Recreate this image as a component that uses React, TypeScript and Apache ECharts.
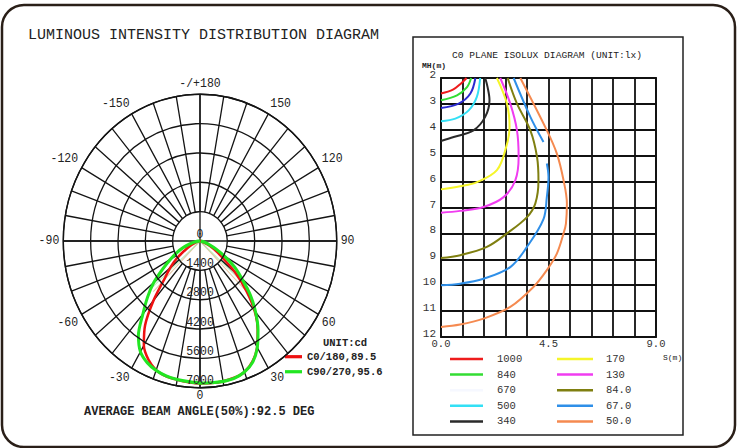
import React, { useEffect, useRef } from "react";
import * as echarts from "echarts";

// ---------- Polar (luminous intensity) data ----------
const polarAngles = [-90, -85, -80, -75, -70, -65, -60, -55, -50, -45, -40, -35, -30, -25, -20, -15, -10, -5, 0, 5, 10, 15, 20, 25, 30, 35, 40, 45, 50, 55, 60, 65, 70, 75, 80, 85, 90];
const c0Intensity = [0, 20, 70, 160, 320, 560, 900, 1450, 2000, 2600, 3700, 4900, 5750, 6250, 6560, 6680, 6720, 6760, 6790, 6800, 6800, 6760, 6650, 6350, 5850, 5150, 4350, 3350, 2400, 1450, 950, 560, 280, 120, 45, 10, 0];
const c90Intensity = [0, 100, 280, 550, 900, 1300, 1750, 2330, 3100, 3800, 4550, 5500, 6100, 6400, 6570, 6670, 6710, 6740, 6780, 6790, 6800, 6780, 6650, 6380, 5870, 5180, 4430, 3650, 2800, 2150, 1450, 900, 500, 250, 100, 30, 0];
const c0Name = "C0/180,89.5";
const c90Name = "C90/270,95.6";
const beamC0 = [[0, 44.75], [3395, 44.75], [0, 0], [0, -44.75], [3395, -44.75]];
const beamC90 = [[0, 47.8], [3390, 47.8], [0, 0], [0, -47.8], [3390, -47.8]];
const radiusMax = 7000;
const radiusStep = 1400;

// ---------- Isolux data ([S (m), MH (m)]) ----------
const isoNames = ["1000", "840", "670", "500", "340", "170", "130", "84.0", "67.0", "50.0"];
const isoColors = ["#ee1c1c", "#33dd33", "#2a2ad0", "#33e0f5", "#2a2a2a", "#f5f52a", "#f03cf0", "#7f7f10", "#2f8fe8", "#f58a50"];
const iso1000 = [[0, 2.6], [0.5, 2.45], [0.85, 2.2], [1.07, 2.0]];
const iso840 = [[0, 2.86], [0.67, 2.67], [1.09, 2.35], [1.26, 2.0]];
const iso670 = [[0, 3.16], [0.74, 2.99], [1.23, 2.6], [1.44, 2.0]];
const iso500 = [[0, 3.67], [0.6, 3.57], [1.16, 3.25], [1.5, 2.73], [1.64, 2.0]];
const iso340 = [[0, 4.43], [0.53, 4.28], [1.36, 4.02], [1.85, 3.5], [2.03, 2.86], [1.95, 2.35], [1.85, 2.0]];
const iso170 = [[0, 6.3], [0.8, 6.18], [1.51, 6.02], [2.34, 5.56], [2.73, 4.66], [2.87, 3.89], [2.76, 2.99], [2.34, 2.0]];
const iso130 = [[0, 7.2], [0.8, 7.13], [1.78, 6.98], [2.62, 6.6], [3.11, 5.95], [3.25, 5.05], [3.18, 4.02], [2.9, 2.99], [2.48, 2.0]];
const iso84 = [[0, 8.95], [0.81, 8.84], [1.92, 8.52], [2.76, 8.0], [3.6, 7.37], [3.95, 6.84], [4.08, 5.95], [4.02, 5.05], [3.74, 4.02], [3.18, 2.99], [2.79, 2.0]];
const iso67Lower = [[0, 10.0], [0.8, 9.94], [1.78, 9.75], [2.9, 9.3], [3.6, 8.52], [4.29, 7.45], [4.43, 6.6], [4.5, 5.82], [4.43, 5.3]];
const iso67Upper = [[4.29, 4.47], [3.74, 3.5], [3.04, 2.0]];
const iso50 = [[0, 11.61], [0.8, 11.52], [1.78, 11.29], [2.9, 10.84], [3.87, 10.07], [4.43, 9.42], [4.85, 8.78], [5.13, 8.0], [5.23, 7.62], [5.27, 6.85], [5.13, 5.95], [4.85, 4.92], [4.43, 4.02], [3.32, 2.0]];
const isoCurves = [iso1000, iso840, iso670, iso500, iso340, iso170, iso130, iso84, iso67Lower, iso50];
const sMax = 9;
const sStep = 0.9;
const sLabels = [0, 4.5, 9];
const mhMin = 2;
const mhMax = 12;

const MONO = "'Liberation Mono', 'DejaVu Sans Mono', monospace";
const GRID = "#141414";

// polar diagram geometry (the source drawing is slightly elliptical)
const CX = 200;
const CY = 241;
const R = 136.7;
const STRETCH = 146.7 / 136.7;

function toPolar(angles: number[], values: number[]) {
  return angles.map((a, i) => [values[i], a < 0 ? a + 360 : a]);
}
function wrapBeam(pts: number[][]) {
  return pts.map(([r, a]) => [r, a < 0 ? a + 360 : a]);
}
function angleLabel(v: number) {
  if (v % 30 !== 0 || v === 360) return "";
  if (v === 0) return "{z|0}";
  if (v === 180) return "-/+180";
  return v > 180 ? String(v - 360) : String(v);
}
// screen y -> unstretched y inside the polar canvas
function uy(y: number) {
  return CY + (y - CY) / STRETCH;
}

function buildPolarOption(): any {
  return {
    animation: false,
    polar: [
      { center: [CX, CY], radius: R },
      { center: [CX, CY], radius: [(R * radiusStep) / radiusMax, R] },
    ],
    angleAxis: [
      {
        polarIndex: 0, type: "value", min: 0, max: 360, interval: 90,
        startAngle: 270, clockwise: false,
        axisLine: { show: true, lineStyle: { color: GRID, width: 1.4 } },
        axisTick: { show: false }, axisLabel: { show: false },
        splitLine: { show: true, lineStyle: { color: GRID, width: 1.3 } },
      },
      {
        polarIndex: 1, type: "value", min: 0, max: 360, interval: 10,
        startAngle: 270, clockwise: false,
        axisLine: { show: false }, axisTick: { show: false },
        axisLabel: {
          show: true, margin: 4, formatter: angleLabel, fontFamily: MONO, fontSize: 11.5, color: "#222",
          rich: { z: { fontFamily: MONO, fontSize: 11.5, color: "#222", lineHeight: 7 } },
        },
        splitLine: { show: true, lineStyle: { color: GRID, width: 1.3 } },
      },
    ],
    radiusAxis: [
      {
        polarIndex: 0, type: "value", min: 0, max: radiusMax, interval: radiusStep,
        axisLine: { show: false }, axisTick: { show: false },
        axisLabel: {
          show: true, margin: 0, align: "center", verticalAlign: "bottom",
          formatter: (v: number) => String(v),
          fontFamily: MONO, fontSize: 11.5, color: "#222",
        },
        splitLine: { show: true, lineStyle: { color: GRID, width: 1.3 } },
        z: 6,
      },
      { polarIndex: 1, type: "value", min: 0, max: 1, show: false },
    ],
    legend: {
      data: [c0Name, c90Name], orient: "vertical", left: 285, top: uy(356.7) - 6, padding: 0,
      icon: "rect", itemWidth: 17, itemHeight: 3, itemGap: 2,
      textStyle: { fontFamily: MONO, fontSize: 10.5, color: "#222", fontWeight: "bold", lineHeight: 12 },
      selectedMode: false,
    },
    series: [
      {
        name: c0Name, type: "line", coordinateSystem: "polar", polarIndex: 0,
        data: toPolar(polarAngles, c0Intensity), smooth: 0.3, symbol: "none",
        color: "#ee1111", lineStyle: { width: 2.5, color: "#ee1111" }, z: 4,
      },
      {
        name: c90Name, type: "line", coordinateSystem: "polar", polarIndex: 0,
        data: toPolar(polarAngles, c90Intensity), smooth: 0.3, symbol: "none",
        color: "#22e622", lineStyle: { width: 3, color: "#22e622" }, z: 5,
      },
      {
        name: "beamC0", type: "line", coordinateSystem: "polar", polarIndex: 0,
        data: wrapBeam(beamC0), symbol: "none",
        lineStyle: { width: 1, color: "#d8b080", opacity: 0.7 }, z: 3,
      },
      {
        name: "beamC90", type: "line", coordinateSystem: "polar", polarIndex: 0,
        data: wrapBeam(beamC90), symbol: "none",
        lineStyle: { width: 1, color: "#9ee09e", opacity: 0.7 }, z: 3,
      },
    ],
  };
}

function buildMainOption(): any {
  const isoSeries: any[] = isoCurves.map((d, i) => ({
    name: isoNames[i], type: "line",
    data: d, smooth: 0.35, symbol: "none", color: isoColors[i],
    lineStyle: { width: 2, color: isoColors[i] }, z: 4,
  }));
  isoSeries.push({
    name: "67.0", type: "line",
    data: iso67Upper, smooth: 0.35, symbol: "none", color: isoColors[8],
    lineStyle: { width: 2, color: isoColors[8] }, z: 4,
  });
  const legendText = { fontFamily: MONO, fontSize: 10.5, color: "#333", lineHeight: 12 };

  return {
    animation: false,
    backgroundColor: "#ffffff",
    grid: {
      left: 441, top: 78, width: 215, height: 259,
      show: true, borderColor: "#111", borderWidth: 1.8, backgroundColor: "transparent",
    },
    xAxis: {
      type: "value", min: 0, max: sMax, interval: sStep,
      axisLine: { show: false }, axisTick: { show: false },
      splitLine: { show: true, lineStyle: { color: "#111", width: 1.8 } },
      axisLabel: {
        margin: 1, fontFamily: MONO, fontSize: 10.5, color: "#333",
        formatter: (v: number) => (sLabels.some((s) => Math.abs(s - v) < 1e-6) ? v.toFixed(1) : ""),
      },
    },
    yAxis: {
      type: "value", min: mhMin, max: mhMax, interval: 1, inverse: true,
      axisLine: { show: false }, axisTick: { show: false },
      splitLine: { show: true, lineStyle: { color: "#111", width: 1.8 } },
      axisLabel: { margin: 5, fontFamily: MONO, fontSize: 11, color: "#333", verticalAlign: "bottom", lineHeight: 6 },
    },
    legend: [
      {
        data: ["1000", "840", { name: "670", itemStyle: { color: "#f6f8ff" } }, "500", "340"],
        orient: "vertical", left: 450, top: 353, padding: 0, icon: "rect",
        itemWidth: 33, itemHeight: 2.5, itemGap: 3.6,
        textStyle: { ...legendText, padding: [0, 0, 0, 9] }, selectedMode: false,
      },
      {
        data: ["170", "130", "84.0", "67.0", "50.0"],
        orient: "vertical", left: 557, top: 353, padding: 0, icon: "rect",
        itemWidth: 36, itemHeight: 2.5, itemGap: 3.6,
        textStyle: { ...legendText, padding: [0, 0, 0, 8] }, selectedMode: false,
      },
    ],
    graphic: [
      { type: "rect", shape: { x: 2, y: 5, width: 733, height: 442, r: 22 }, style: { fill: "none", stroke: "#2a1f18", lineWidth: 2.5 }, z: 0 },
      { type: "rect", shape: { x: 413, y: 37, width: 270, height: 398 }, style: { fill: "none", stroke: "#222", lineWidth: 1.5 }, z: 0 },
      { type: "text", x: 28, y: 35, style: { text: "LUMINOUS INTENSITY DISTRIBUTION DIAGRAM", font: `15px ${MONO}`, fill: "#222", verticalAlign: "middle" } },
      { type: "text", x: 84, y: 411.5, style: { text: "AVERAGE BEAM ANGLE(50%):92.5 DEG", font: `bold 12px ${MONO}`, fill: "#222", verticalAlign: "middle" } },
      { type: "text", x: 323, y: 343, style: { text: "UNIT:cd", font: `bold 10.5px ${MONO}`, fill: "#222", verticalAlign: "middle" } },
      { type: "text", x: 547, y: 55, style: { text: "C0 PLANE ISOLUX DIAGRAM (UNIT:lx)", font: `9.6px ${MONO}`, fill: "#222", align: "center", verticalAlign: "middle" } },
      { type: "text", x: 422, y: 65, style: { text: "MH(m)", font: `bold 8px ${MONO}`, fill: "#222", verticalAlign: "middle" } },
      { type: "text", x: 663, y: 357, style: { text: "S(m)", font: `8px ${MONO}`, fill: "#222", verticalAlign: "middle" } },
    ],
    series: isoSeries,
  };
}

function EChart({ build, style }: { build: () => any; style: React.CSSProperties }) {
  const ref = useRef<HTMLDivElement>(null);
  useEffect(() => {
    if (!ref.current) return;
    const chart = echarts.init(ref.current, null, { renderer: "svg" });
    chart.setOption(build());
    return () => chart.dispose();
  }, [build]);
  return <div ref={ref} style={style} />;
}

export default function App() {
  return (
    <div style={{ position: "absolute", left: 0, top: 0, width: 737, height: 448, background: "#fff", overflow: "hidden" }}>
      <EChart
        build={buildMainOption}
        style={{ position: "absolute", left: 0, top: 0, width: 737, height: 448 }}
      />
      <EChart
        build={buildPolarOption}
        style={{
          position: "absolute", left: 0, top: 0, width: 400, height: 448,
          transform: `scaleY(${STRETCH})`, transformOrigin: `${CX}px ${CY}px`,
        }}
      />
    </div>
  );
}
